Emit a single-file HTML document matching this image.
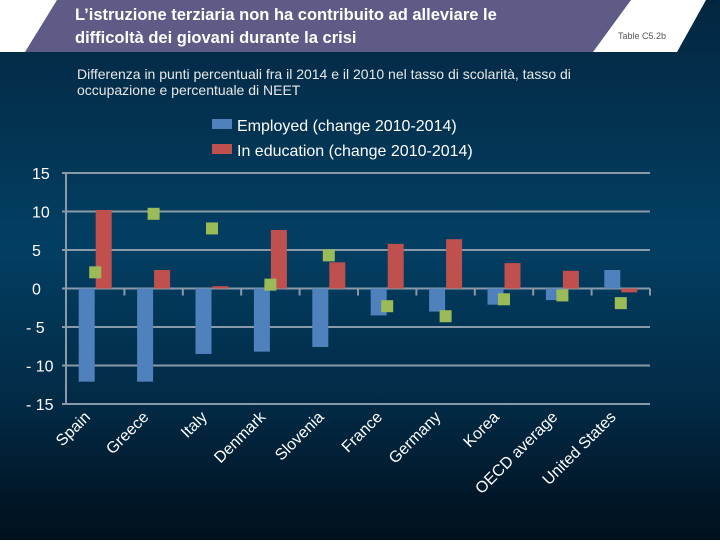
<!DOCTYPE html>
<html><head><meta charset="utf-8"><style>
body{margin:0;width:720px;height:540px;overflow:hidden;font-family:"Liberation Sans",sans-serif}
</style></head><body>
<svg width="720" height="540" xmlns="http://www.w3.org/2000/svg">
<defs><linearGradient id="bg" x1="0" y1="0" x2="0" y2="1">
<stop offset="0" stop-color="#032640"/><stop offset="0.45" stop-color="#033f63"/><stop offset="0.75" stop-color="#022a45"/><stop offset="1" stop-color="#010f1c"/></linearGradient></defs>
<rect width="720" height="540" fill="url(#bg)"/>
<polygon points="0,0 706,0 677,52 0,52" fill="#ffffff"/>
<polygon points="57,0 631,0 593,52 25,52" fill="#5f5b87"/>
<text x="75" y="20" fill="#fff" font-size="16.5" font-weight="bold">L’istruzione terziaria non ha contribuito ad alleviare le</text>
<text x="75" y="43" fill="#fff" font-size="16.5" font-weight="bold">difficoltà dei giovani durante la crisi</text>
<text x="618" y="39" fill="#555" font-size="9">Table C5.2b</text>
<text x="77" y="79" fill="#e8e8e8" font-size="14">Differenza in punti percentuali fra il 2014 e il 2010 nel tasso di scolarità, tasso di</text>
<text x="77" y="95" fill="#e8e8e8" font-size="14">occupazione e percentuale di NEET</text>
<rect x="212" y="119" width="20" height="10" fill="#4f81bd"/>
<text x="237" y="131" fill="#fff" font-size="16">Employed (change 2010-2014)</text>
<rect x="212" y="144" width="20" height="10" fill="#c0504d"/>
<text x="237" y="156" fill="#fff" font-size="16">In education (change 2010-2014)</text>
<g id="plot"></g>
</svg>
<script>
const categories=["Spain","Greece","Italy","Denmark","Slovenia","France","Germany","Korea","OECD average","United States"];
const employed=[-12.1,-12.1,-8.5,-8.2,-7.6,-3.5,-3.0,-2.1,-1.5,2.4];
const education=[10.2,2.4,0.3,7.6,3.4,5.8,6.4,3.3,2.3,-0.5];
const neet=[2.1,9.7,7.8,0.5,4.3,-2.3,-3.6,-1.4,-0.9,-1.9];
const yTicks=[15,10,5,0,-5,-10,-15];
const NS="http://www.w3.org/2000/svg";
const g=document.getElementById('plot');
const x0=66,x1=650,yTop=173,yBot=404,vMax=15,vMin=-15;
const y=v=>yTop+(vMax-v)/(vMax-vMin)*(yBot-yTop);
const cw=(x1-x0)/categories.length;
const cx=i=>x0+cw*(i+0.5);
function mk(t,a){const e=document.createElementNS(NS,t);for(const k in a)e.setAttribute(k,a[k]);g.appendChild(e);return e;}
yTicks.forEach(t=>{
 const l=mk('line',{x1:x0-4,x2:x1,y1:y(t),y2:y(t),stroke:'#8a9aa8','stroke-width':2});
 
 
 const tx=mk('text',{x:t<0?26:32,y:y(t)+6,fill:'#fff','font-size':16,'text-anchor':'start'});
 tx.textContent=String(t).replace('-','- ');
 
 
});
const ax=mk('line',{x1:x0,x2:x0,y1:yTop,y2:yBot,stroke:'#8a9aa8','stroke-width':2});


for(let i=1;i<=categories.length;i++){
 const t=mk('line',{x1:x0+cw*i,x2:x0+cw*i,y1:y(0),y2:y(0)+7,stroke:'#8a9aa8','stroke-width':2});
 
 
}
const bw=16;
categories.forEach((c,i)=>{
 const e=employed[i],d=education[i];
 const b=mk('rect',{x:cx(i)-bw-0.5,y:Math.min(y(0),y(e)),width:bw,height:Math.abs(y(e)-y(0)),fill:'#4f81bd'});
 
 
 const r=mk('rect',{x:cx(i)+0.5,y:Math.min(y(0),y(d)),width:bw,height:Math.abs(y(d)-y(0)),fill:'#c0504d'});
 
 
 const m=mk('rect',{x:cx(i)-6,y:y(neet[i])-6,width:12,height:12,fill:'#9bbb59'});
 
 
 const lx=cx(i)-4,ly=yBot+14;
 const tl=mk('text',{x:lx,y:ly,fill:'#fff','font-size':16,'text-anchor':'end',transform:`rotate(-45 ${lx} ${ly})`});
 tl.textContent=c;
 
 
});
</script>
</body></html>
